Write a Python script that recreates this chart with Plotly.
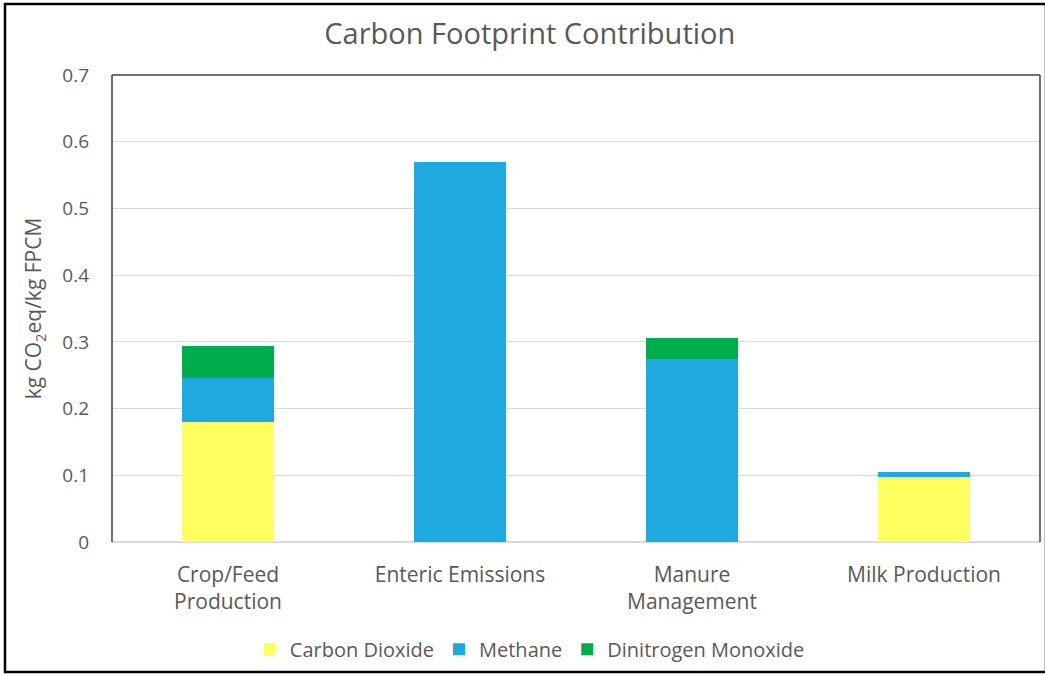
import plotly.graph_objects as go

# Emission sources along the x axis
categories = ["Crop/Feed<br>Production", "Enteric Emissions", "Manure<br>Management", "Milk Production"]

# Contribution of each gas (kg CO2eq / kg FPCM)
carbon_dioxide = [0.180, 0.0, 0.0, 0.097]
methane = [0.066, 0.570, 0.275, 0.008]
dinitrogen_monoxide = [0.048, 0.0, 0.031, 0.0]

y_ticks = [0, 0.1, 0.2, 0.3, 0.4, 0.5, 0.6, 0.7]
y_tick_text = ["0", "0.1", "0.2", "0.3", "0.4", "0.5", "0.6", "0.7"]

FONT = "'Open Sans', sans-serif"
TEXT = "#595959"

fig = go.Figure()
series = [
    ("Carbon Dioxide", carbon_dioxide, "#FFFF5F"),
    ("Methane", methane, "#1EA9E1"),
    ("Dinitrogen Monoxide", dinitrogen_monoxide, "#00AD4C"),
]
for name, vals, color in series:
    fig.add_trace(go.Bar(
        x=categories, y=vals, name=name,
        marker=dict(color=color, line=dict(width=0)),
        width=0.4,
    ))

fig.update_layout(
    barmode="stack",
    width=1045, height=675,
    margin=dict(l=112, r=5, t=75, b=133),
    paper_bgcolor="white", plot_bgcolor="white",
    font=dict(family=FONT, color=TEXT, size=18),
    title=dict(
        text="Carbon Footprint Contribution",
        x=0.507, xref="container", xanchor="center",
        y=0.95, yref="container", yanchor="middle",
        font=dict(size=29, color=TEXT, family=FONT),
    ),
    showlegend=True,
    legend=dict(
        orientation="h", x=0.507, xref="container", xanchor="center",
        y=0.038, yref="container", yanchor="middle",
        font=dict(size=20, color=TEXT),
        itemsizing="constant", traceorder="normal",
        itemwidth=30,
    ),
    xaxis=dict(
        showgrid=False, showline=False, zeroline=False,
        tickfont=dict(size=21, color=TEXT),
        ticks="", ticklabelstandoff=18,
    ),
    yaxis=dict(
        range=[0, 0.7], tickvals=y_ticks, ticktext=y_tick_text,
        showgrid=True, gridcolor="#D9D9D9", gridwidth=1,
        zeroline=True, zerolinecolor="#D9D9D9", zerolinewidth=1.5,
        showline=False, ticks="", ticklabelstandoff=22,
        tickfont=dict(size=19, color=TEXT),
        title=dict(text="kg CO<sub>2</sub>eq/kg FPCM", font=dict(size=21, color=TEXT), standoff=14),
    ),
    shapes=[
        # plot area frame: left, top, right
        dict(type="line", xref="paper", yref="paper", x0=0, x1=0, y0=0, y1=1,
             line=dict(color="#404040", width=1.5)),
        dict(type="line", xref="paper", yref="paper", x0=0, x1=1, y0=1, y1=1,
             line=dict(color="#404040", width=1.5)),
        dict(type="line", xref="paper", yref="paper", x0=1, x1=1, y0=0, y1=1,
             line=dict(color="#404040", width=1.5)),
        # outer chart border
        dict(type="rect", xref="paper", yref="paper",
             x0=(5 - 112) / 928, x1=(1046 - 112) / 928,
             y0=(542 - 672) / 467, y1=(542 - 4) / 467,
             line=dict(color="black", width=2.5), layer="above"),
    ],
)

fig.write_html("out.html")
